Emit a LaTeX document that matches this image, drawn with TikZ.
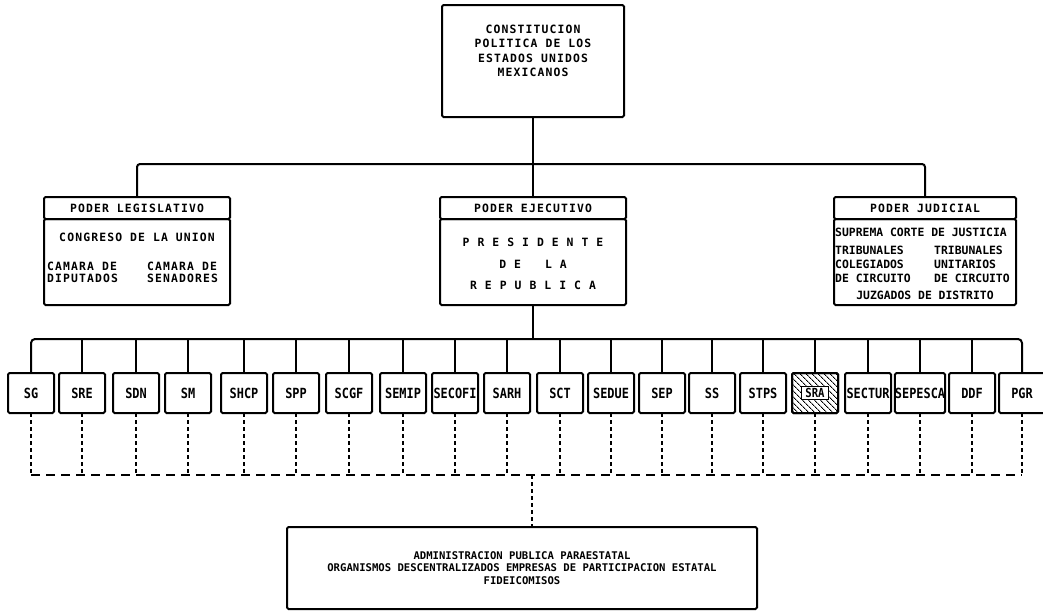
\documentclass[tikz,border=0pt]{standalone}
\usepackage{fontspec}
\newfontfamily\orgwide[LetterSpace=10]{DejaVu Sans Mono}
\newfontfamily\orgmono{DejaVu Sans Mono}
\newfontfamily\orgnarrow[FakeStretch=0.85]{DejaVu Sans Mono}
\usetikzlibrary{positioning, patterns.meta}
\setlength{\fboxsep}{1.2pt}
\setlength{\fboxrule}{1pt}
\newcommand{\sralabel}{\fcolorbox{black}{white}{\,SRA\,}}
\tikzset{
  org/.style={draw, line width=2pt, rounded corners=1.5pt, inner sep=0pt, outer sep=0pt},
  head/.style={org, minimum width=186pt, minimum height=22pt, font=\fontsize{11.4}{14}\orgwide\bfseries},
  body/.style={org, minimum width=186pt, minimum height=86pt},
  txt/.style={inner sep=0pt, align=center, font=\fontsize{11.4}{14.3}\orgwide\bfseries},
  col/.style={inner sep=0pt, align=left, font=\fontsize{11.4}{12.3}\orgwide\bfseries},
  jcol/.style={inner sep=0pt, align=left, font=\fontsize{11.4}{14}\orgmono\bfseries},
  secbox/.style={org, minimum width=46pt, minimum height=40pt, font=\fontsize{14}{15}\orgnarrow\bfseries},
  hatch/.style={pattern={Lines[angle=-45, distance=4pt, line width=0.9pt]}},
  link/.style={line width=2pt},
  vdash/.style={line width=2pt, dash pattern=on 3.5pt off 3.5pt},
  hdash/.style={line width=2pt, dash pattern=on 9pt off 6pt}
}

\begin{document}
\begin{tikzpicture}[x=1pt, y=-1pt]
  \useasboundingbox (0,0) rectangle (1043,611);

  % constitucion
  \node[org, minimum width=182pt, minimum height=112pt] (cpeum) at (533,61) {};
  \node[txt, below=20pt of cpeum.north] (cpeumtxt)
    {CONSTITUCION\\POLITICA DE LOS\\ESTADOS UNIDOS\\MEXICANOS};

  % poderes
  \node[head] (legh) at (137,208) {PODER LEGISLATIVO};
  \node[body, below=0pt of legh] (leg) {};
  \node[txt, below=14pt of leg.north] (congreso) {CONGRESO DE LA UNION};
  \node[col, anchor=north west] (diputados) at ([shift={(3pt,-43pt)}]leg.north west)
    {CAMARA DE\\DIPUTADOS};
  \node[col, anchor=north west] (senadores) at ([shift={(103pt,-43pt)}]leg.north west)
    {CAMARA DE\\SENADORES};

  \node[head] (exh) at (533,208) {PODER EJECUTIVO};
  \node[body, below=0pt of exh] (ex) {};
  \node[txt, font=\fontsize{11.4}{21.5}\orgwide\bfseries, below=19pt of ex.north] (presidente)
    {P R E S I D E N T E\\D E\ \ \ L A\\R E P U B L I C A};

  \node[head, minimum width=182pt] (judh) at (925,208) {PODER JUDICIAL};
  \node[body, minimum width=182pt, below=0pt of judh] (jud) {};
  \node[jcol, anchor=north west] (suprema) at ([shift={(1pt,-9pt)}]jud.north west)
    {SUPREMA CORTE DE JUSTICIA};
  \node[jcol, anchor=north west] (colegiados) at ([shift={(1pt,-27pt)}]jud.north west)
    {TRIBUNALES\\COLEGIADOS\\DE CIRCUITO};
  \node[jcol, anchor=north west] (unitarios) at ([shift={(100pt,-27pt)}]jud.north west)
    {TRIBUNALES\\UNITARIOS\\DE CIRCUITO};
  \node[jcol, anchor=north, below=72pt of jud.north] (juzgados) {JUZGADOS DE DISTRITO};

  \coordinate (tbus) at (533,164);
  \draw[link] (cpeum.south) -- (cpeum.south |- tbus);
  \draw[link, rounded corners=3pt] (legh.north) |- (tbus) -| (judh.north);
  \draw[link] (exh.north) -- (exh.north |- tbus);

  % secretarias
  \foreach \name/\x [count=\i] in {SG/31, SRE/82, SDN/136, SM/188, SHCP/244,
      SPP/296, SCGF/349, SEMIP/403, SECOFI/455, SARH/507, SCT/560, SEDUE/611,
      SEP/662, SS/712, STPS/763, {}/815, SECTUR/868, SEPESCA/920,
      DDF/972, PGR/1022}
    \node[secbox] (s\i) at (\x,393) {\name};
  \node[secbox, hatch] (sra) at (s16) {};
  \node[inner sep=0pt, font=\fontsize{12.5}{13}\orgnarrow\bfseries] (sratxt) at (s16) {\sralabel};

  \coordinate (bus) at (533,339);
  \draw[link, rounded corners=4pt] (s1.north) |- (bus) -| (s20.north);
  \draw[link] (ex.south) -- (ex.south |- bus);
  \foreach \i in {2,...,19}
    \draw[link] (s\i.north) -- (s\i.north |- bus);

  % paraestatal
  \node[org, minimum width=470pt, minimum height=82pt, align=center,
        font=\fontsize{10.6}{12.6}\orgmono\bfseries] (para) at (522,568)
    {ADMINISTRACION PUBLICA PARAESTATAL\\ORGANISMOS DESCENTRALIZADOS EMPRESAS DE PARTICIPACION ESTATAL\\FIDEICOMISOS};

  \coordinate (dbus) at (532,475);
  \draw[hdash] (s1.south |- dbus) -- (s20.south |- dbus);
  \foreach \i in {1,...,20}
    \draw[vdash] (s\i.south) -- (s\i.south |- dbus);
  \draw[vdash] (dbus) -- (dbus |- para.north);
\end{tikzpicture}
\end{document}
